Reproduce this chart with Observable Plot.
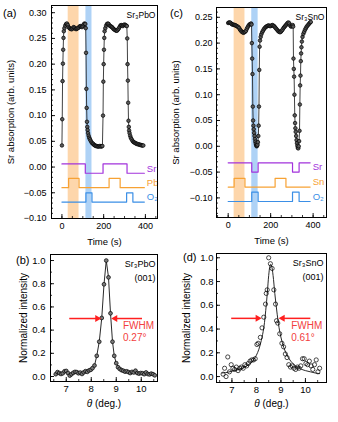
<!DOCTYPE html>
<html><head><meta charset="utf-8">
<script src="https://cdn.jsdelivr.net/npm/d3@7"></script>
<script src="https://cdn.jsdelivr.net/npm/@observablehq/plot@0.6"></script>
<style>
body{margin:0;background:#fff;}
#fig{position:relative;width:338px;height:422px;font-family:"Liberation Sans",Arial,sans-serif;background:#fff;}
.plet{position:absolute;font-size:11px;line-height:11px;color:#000;}
</style></head><body><div id="fig"></div>
<script>
// ---------- Panel (a): Sr3PbO Sr absorption vs time ----------
const timeA = [0,1.5,3,4.5,6,7.5,9,
 12,16,20,24,28,32,36,40,44,48,52,56,60,64,68,72,76,80,84,88,92,96,100,104,108,112,
 114,115.5,117,118.5,120,121.5,123,125,128,131,134,138,142,146,150,154,158,162,166,170,174,178,182,186,190,194,
 197,198.5,200,201.5,203,204.5,
 208,212,216,220,224,228,232,236,240,244,248,252,256,260,264,268,272,276,280,284,288,292,296,300,304,308,311,
 313,314.5,316,317.5,319,320.5,322,324,327,330,334,338,342,346,350,354,358,362,366,370,374,378,382,386,390];
const srA = [0.042,0.093,0.167,0.201,0.228,0.251,0.264,
 0.270,0.275,0.278,0.279,0.276,0.272,0.270,0.269,0.268,0.268,0.270,0.272,0.271,0.269,0.268,0.269,0.270,0.271,0.273,0.274,0.273,0.272,0.274,0.277,0.279,0.278,
 0.270,0.222,0.152,0.115,0.088,0.078,0.072,0.066,0.061,0.057,0.054,0.051,0.048,0.046,0.045,0.043,0.042,0.041,0.041,0.040,0.040,0.040,0.041,0.040,0.040,0.041,
 0.100,0.166,0.200,0.228,0.251,0.264,
 0.270,0.275,0.278,0.279,0.278,0.275,0.274,0.273,0.272,0.270,0.268,0.267,0.266,0.265,0.265,0.267,0.269,0.272,0.275,0.276,0.275,0.274,0.276,0.277,0.276,0.275,0.274,
 0.250,0.200,0.168,0.125,0.090,0.078,0.071,0.066,0.061,0.057,0.054,0.051,0.049,0.048,0.047,0.046,0.045,0.045,0.044,0.044,0.043,0.043,0.042,0.042,0.042];
const shutTimeSrA = [0,112,197,312,395];
const shutSrA = [0.006,-0.012,0.006,-0.012,-0.012];
const shutTimePbA = [0,32,82,226,279,395];
const shutPbA = [-0.040,-0.022,-0.040,-0.022,-0.040,-0.040];
const shutTimeO2A = [0,115,144,310,340,395];
const shutO2A = [-0.068,-0.050,-0.068,-0.050,-0.068,-0.068];
const bandsA = [{x1:30,x2:82,kind:"metal"},{x1:115,x2:144,kind:"oxygen"}];
const shutLabelsA = [{t:407,v:-0.003,s:"Sr",k:"Sr"},{t:407,v:-0.030,s:"Pb",k:"M"},{t:407,v:-0.058,s:"O₂",k:"O"}];

// ---------- Panel (c): Sr3SnO ----------
const timeC = [0,4,8,12,16,20,24,28,32,36,40,44,48,52,56,60,64,68,72,76,80,84,88,92,96,100,104,108,
 110,111.5,113,114.5,116,117.5,119,120.5,122,124,126,128,130,132,134,136,138,140,142,
 143.5,145,146.5,148,150,153,156,
 160,164,168,172,176,180,184,188,192,196,200,204,208,212,216,220,224,228,232,236,240,244,248,252,256,260,264,268,272,276,280,284,288,292,296,300,304,
 306,307.5,309,310.5,312,313.5,315,316.5,318,320,322,324,326,328,330,332,334,336,
 337.5,339,340.5,342,343.5,345,347,350,354,358,362,366,370,374,378,382,386,389];
const srC = [0.239,0.240,0.240,0.239,0.237,0.236,0.236,0.235,0.235,0.234,0.233,0.232,0.231,0.229,0.226,0.224,0.222,0.221,0.220,0.221,0.222,0.224,0.228,0.231,0.234,0.236,0.237,0.238,
 0.236,0.200,0.170,0.140,0.077,0.050,0.040,0.033,0.026,0.020,0.014,0.009,0.005,0.002,0.000,0.001,0.003,0.008,0.020,
 0.040,0.077,0.148,0.193,0.205,0.212,0.217,
 0.221,0.224,0.227,0.229,0.231,0.232,0.233,0.234,0.234,0.233,0.233,0.234,0.235,0.234,0.233,0.231,0.229,0.227,0.225,0.223,0.222,0.221,0.222,0.224,0.226,0.229,0.231,0.233,0.235,0.237,0.239,0.240,0.238,0.234,0.232,0.233,0.235,
 0.232,0.170,0.150,0.135,0.100,0.060,0.045,0.035,0.028,0.020,0.012,0.006,0.001,-0.003,-0.004,0.000,0.010,0.030,
 0.081,0.118,0.137,0.165,0.180,0.192,0.203,0.212,0.218,0.222,0.226,0.229,0.232,0.234,0.236,0.238,0.240,0.241];
const shutTimeSrC = [0,111,141,303,334,386];
const shutSrC = [-0.032,-0.050,-0.032,-0.050,-0.032,-0.032];
const shutTimeSnC = [0,28,79,221,272,386];
const shutSnC = [-0.079,-0.062,-0.079,-0.062,-0.079,-0.079];
const shutTimeO2C = [0,111,141,303,334,386];
const shutO2C = [-0.107,-0.089,-0.107,-0.089,-0.107,-0.107];
const bandsC = [{x1:28,x2:79,kind:"metal"},{x1:111,x2:141,kind:"oxygen"}];
const shutLabelsC = [{t:398,v:-0.041,s:"Sr",k:"Sr"},{t:398,v:-0.070,s:"Sn",k:"M"},{t:398,v:-0.099,s:"O₂",k:"O"}];

// ---------- Panel (b): Sr3PbO (001) rocking curve ----------
const thetaB = [6.58,6.65,6.72,6.79,6.86,6.93,7.00,7.07,7.14,7.21,7.28,7.35,7.42,7.49,7.56,7.63,7.70,7.77,7.84,7.91,7.98,8.05,8.13,
 8.22,8.32,8.42,8.51,8.60,8.69,8.77,8.85,8.92,9.00,9.07,9.14,9.21,9.28,9.35,9.42,9.49,9.56,9.63,9.70,9.77,9.84,9.91,9.98,10.05,10.12,10.19,10.26,10.33,10.40,10.47,10.54];
const intB = [0.020,0.038,0.030,0.022,0.028,0.045,0.048,0.030,0.008,0.020,0.032,0.040,0.038,0.028,0.034,0.022,0.036,0.046,0.040,0.052,0.058,0.072,0.095,
 0.178,0.300,0.505,0.795,1.000,0.855,0.545,0.300,0.178,0.115,0.080,0.065,0.055,0.050,0.042,0.045,0.038,0.030,0.040,0.035,0.050,0.030,0.025,0.030,0.028,0.020,0.035,0.022,0.018,0.025,0.020,0.010];
const arrowsB = [{x1:7.12,x2:8.24,y:0.50},{x1:10.03,x2:8.96,y:0.50}];
const fwhmB = [{x:9.27,y:0.44,s:"FWHM"},{x:9.27,y:0.333,s:"0.27°"}];

// ---------- Panel (d): Sr3SnO (001) rocking curve ----------
const thetaD = [6.64,6.70,6.76,6.83,6.90,6.97,7.04,7.11,7.18,7.25,7.32,7.39,7.46,7.53,7.60,7.67,7.74,7.81,7.88,7.95,8.02,8.07,8.16,8.23,8.30,8.37,8.40,8.44,
 8.50,8.57,8.64,8.71,8.78,8.82,8.87,8.95,9.04,9.11,9.18,9.25,9.32,9.39,9.46,9.53,9.60,9.67,9.74,9.81,9.88,9.95,10.02,10.09,10.16,10.23,10.30,10.37,10.44,10.51,10.58];
const intD = [0.02,0.07,0.00,0.165,0.04,0.10,0.07,0.06,0.08,0.05,0.07,0.08,0.07,0.10,0.09,0.11,0.13,0.14,0.14,0.15,0.27,0.28,0.33,0.41,0.50,0.61,0.70,0.73,
 1.00,0.95,0.91,0.73,0.61,0.47,0.45,0.36,0.28,0.25,0.19,0.16,0.10,0.08,0.09,0.07,0.06,0.08,0.07,0.09,0.15,0.15,0.11,0.10,0.13,0.09,0.06,0.10,0.14,0.04,0.07];
const fitThetaD = [6.60,6.80,7.00,7.20,7.40,7.60,7.80,7.90,8.00,8.10,8.20,8.30,8.40,8.45,8.50,8.55,8.58,8.62,8.68,8.75,8.85,8.95,9.05,9.20,9.40,9.60,9.80,10.00,10.20,10.40,10.58];
const fitD = [0.030,0.035,0.045,0.055,0.068,0.088,0.120,0.145,0.180,0.230,0.305,0.410,0.600,0.720,0.850,0.930,0.945,0.930,0.850,0.700,0.520,0.380,0.290,0.200,0.130,0.090,0.065,0.050,0.040,0.030,0.025];
const arrowsD = [{x1:6.97,x2:8.05,y:0.49},{x1:10.20,x2:9.07,y:0.49}];
const fwhmD = [{x:9.42,y:0.43,s:"FWHM"},{x:9.42,y:0.326,s:"0.61°"}];

// tick labels
const yTicksTop = [-0.10,-0.05,0.00,0.05,0.10,0.15,0.20,0.25,0.30];
const xTicksTime = [0,200,400];
const yTicksRock = [0,0.2,0.4,0.6,0.8,1.0];
const xTicksTheta = [7,8,9,10];

// ---------- styles ----------
const COL = {Sr:"#a233dc", M:"#f7a234", O:"#3b8fe6", metal:"#fdd6ab", oxygen:"#aed2f6", red:"#ff1f1f", redText:"#f24040"};
const FONT = "Liberation Sans, Arial, sans-serif";
const fig = document.getElementById("fig");
const zip = (xs, ys) => xs.map((x, i) => ({x, y: ys[i]}));

function place(el, left, top) {
  el.style.position = "absolute"; el.style.left = left + "px"; el.style.top = top + "px";
  fig.appendChild(el);
}
function inwardTicks(major, minor, axis, fw, fh) {
  if (axis === "y") return [
    Plot.tickY(minor, {y: d => d, insetRight: fw - 2, stroke: "black", strokeWidth: 0.8}),
    Plot.tickY(major, {y: d => d, insetRight: fw - 4, stroke: "black", strokeWidth: 0.9})
  ];
  return [
    Plot.tickX(minor, {x: d => d, insetTop: fh - 2, stroke: "black", strokeWidth: 0.8}),
    Plot.tickX(major, {x: d => d, insetTop: fh - 4, stroke: "black", strokeWidth: 0.9})
  ];
}

function timePanel(o) {
  const fw = o.width - o.mL - o.mR, fh = o.height - o.mT - o.mB;
  const data = zip(o.time, o.val);
  const marks = [];
  for (const b of o.bands) marks.push(Plot.rect([b], {x1: "x1", x2: "x2", y1: () => o.yDomain[0], y2: () => o.yDomain[1], fill: COL[b.kind]}));
  for (const s of o.shutters) marks.push(Plot.line(zip(s.t, s.v), {x: "x", y: "y", curve: "step-after", stroke: COL[s.k], strokeWidth: 1.2}));
  marks.push(Plot.text(o.shutLabels, {x: "t", y: "v", text: "s", fill: d => COL[d.k], textAnchor: "start", fontSize: 9.5, lineAnchor: "middle"}));
  marks.push(Plot.line(data, {x: "x", y: "y", stroke: "#111", strokeWidth: 0.8}));
  marks.push(Plot.dot(data, {x: "x", y: "y", r: 1.8, stroke: "#000", fill: "#5a5a5a", strokeWidth: 0.7}));
  marks.push(...inwardTicks(o.yTicks, d3.range(-0.14, 0.315, 0.01).map(v => +v.toFixed(2)).filter(v => v >= o.yDomain[0] && v <= o.yDomain[1]), "y", fw, fh));
  marks.push(...inwardTicks(o.xTicks, d3.range(-50, 461, 50).filter(v => v >= o.xDomain[0] && v <= o.xDomain[1]), "x", fw, fh));
  marks.push(Plot.axisY(o.yTicks, {tickSize: 0, tickPadding: o.yPad, tickFormat: d3.format(".2f"), label: null, fontSize: 9}));
  marks.push(Plot.axisX(o.xTicks, {tickSize: 0, tickPadding: 4, label: null, fontSize: 9}));
  marks.push(Plot.frame({stroke: "black", strokeWidth: 1}));
  marks.push(Plot.text([o.compound], {frameAnchor: "top-right", dx: -2, dy: 10, textAnchor: "end", lineAnchor: "middle", fontSize: 8.5}));
  marks.push(Plot.text(["Sr absorption (arb. units)"], {frameAnchor: "left", dx: o.yTitleDx, rotate: -90, textAnchor: "middle", lineAnchor: "middle", fontSize: 9.5}));
  marks.push(Plot.text(["Time (s)"], {frameAnchor: "bottom", dy: o.xTitleDy, textAnchor: "middle", lineAnchor: "middle", fontSize: 9.5}));
  return Plot.plot({
    width: o.width, height: o.height, marginLeft: o.mL, marginRight: o.mR, marginTop: o.mT, marginBottom: o.mB,
    style: {fontFamily: FONT, fontSize: "9px", color: "black", background: "transparent", overflow: "visible"},
    x: {domain: o.xDomain}, y: {domain: o.yDomain},
    marks
  });
}

function rockPanel(o) {
  const fw = o.width - o.mL - o.mR, fh = o.height - o.mT - o.mB;
  const data = zip(o.theta, o.val);
  const marks = [];
  if (o.fit) marks.push(Plot.line(zip(o.fit.x, o.fit.y), {x: "x", y: "y", curve: "catmull-rom", stroke: "#111", strokeWidth: 0.9}));
  else marks.push(Plot.line(data, {x: "x", y: "y", stroke: "#111", strokeWidth: 0.9}));
  marks.push(Plot.dot(data, {x: "x", y: "y", r: o.fit ? 2.1 : 1.9, stroke: "#000", fill: o.fit ? "none" : "#7a7a7a", strokeWidth: 0.7}));
  marks.push(Plot.link(o.arrows, {x1: "x1", x2: "x2", y1: "y", y2: "y", stroke: COL.red, strokeWidth: 1.5}));
  marks.push(Plot.dot(o.arrows, {x: "x2", y: "y", symbol: "triangle", r: 2.6, fill: COL.red, stroke: "none",
    rotate: d => d.x2 > d.x1 ? 90 : -90, dx: 0}));
  marks.push(Plot.text(o.fwhm, {x: "x", y: "y", text: "s", fill: COL.redText, textAnchor: "start", lineAnchor: "middle", fontSize: 10}));
  marks.push(...inwardTicks(yTicksRock, d3.range(0, 1.05, 0.1).map(v => +v.toFixed(1)), "y", fw, fh));
  marks.push(...inwardTicks(xTicksTheta, d3.range(6.5, 10.9, 0.5).filter(v => v <= o.xDomain[1]), "x", fw, fh));
  marks.push(Plot.axisY(yTicksRock, {tickSize: 0, tickPadding: o.yPad, tickFormat: d3.format(".1f"), label: null, fontSize: 9.5}));
  marks.push(Plot.axisX(xTicksTheta, {tickSize: 0, tickPadding: 4, label: null, fontSize: 9.5}));
  marks.push(Plot.frame({stroke: "black", strokeWidth: 1}));
  marks.push(Plot.text([o.compound], {frameAnchor: "top-right", dx: o.labDx, dy: o.labDy1, textAnchor: "end", lineAnchor: "middle", fontSize: 9}));
  marks.push(Plot.text(["(001)"], {frameAnchor: "top-right", dx: o.labDx, dy: o.labDy2, textAnchor: "end", lineAnchor: "middle", fontSize: 9}));
  marks.push(Plot.text(["Normalized intensity"], {frameAnchor: "left", dx: o.yTitleDx, rotate: -90, textAnchor: "middle", lineAnchor: "middle", fontSize: 10}));
  marks.push(Plot.text(["θ (deg.)"], {frameAnchor: "bottom", dy: o.xTitleDy, textAnchor: "middle", lineAnchor: "middle", fontSize: 10}));
  const svg = Plot.plot({
    width: o.width, height: o.height, marginLeft: o.mL, marginRight: o.mR, marginTop: o.mT, marginBottom: o.mB,
    style: {fontFamily: FONT, fontSize: "9.5px", color: "black", background: "transparent", overflow: "visible"},
    x: {domain: o.xDomain}, y: {domain: o.yDomain},
    marks
  });
  for (const t of svg.querySelectorAll("text")) {
    if (t.textContent === "θ (deg.)") {
      t.textContent = "";
      const a = document.createElementNS("http://www.w3.org/2000/svg", "tspan");
      a.setAttribute("font-style", "italic"); a.textContent = "θ";
      const b = document.createElementNS("http://www.w3.org/2000/svg", "tspan");
      b.textContent = " (deg.)";
      t.appendChild(a); t.appendChild(b);
    }
  }
  return svg;
}

place(timePanel({time: timeA, val: srA, width: 170, height: 250, mL: 51, mR: 13, mT: 5, mB: 32,
  xDomain: [-50, 458], yDomain: [-0.10, 0.314], yTicks: yTicksTop, xTicks: xTicksTime, yPad: 5,
  bands: bandsA, shutLabels: shutLabelsA, compound: "Sr₃PbO", yTitleDx: -41, xTitleDy: 23.5,
  shutters: [{t: shutTimeSrA, v: shutSrA, k: "Sr"}, {t: shutTimePbA, v: shutPbA, k: "M"}, {t: shutTimeO2A, v: shutO2A, k: "O"}]}), 0, 0);

place(timePanel({time: timeC, val: srC, width: 168, height: 250, mL: 46, mR: 12, mT: 7, mB: 33,
  xDomain: [-55, 463], yDomain: [-0.138, 0.269], yTicks: yTicksTop.filter(v => v <= 0.25), xTicks: xTicksTime, yPad: 4,
  bands: bandsC, shutLabels: shutLabelsC, compound: "Sr₃SnO", yTitleDx: -41, xTitleDy: 23,
  shutters: [{t: shutTimeSrC, v: shutSrC, k: "Sr"}, {t: shutTimeSnC, v: shutSnC, k: "M"}, {t: shutTimeO2C, v: shutO2C, k: "O"}]}), 170, 0);

place(rockPanel({theta: thetaB, val: intB, width: 170, height: 172, mL: 50, mR: 13, mT: 4, mB: 41,
  xDomain: [6.37, 10.65], yDomain: [-0.043, 1.052], yPad: 5, arrows: arrowsB, fwhm: fwhmB,
  compound: "Sr₃PbO", labDx: -2, labDy1: 9.5, labDy2: 24, yTitleDx: -27, xTitleDy: 22.3}), 0, 250);

place(rockPanel({theta: thetaD, val: intD, fit: {x: fitThetaD, y: fitD}, width: 168, height: 172, mL: 46, mR: 12, mT: 3, mB: 40,
  xDomain: [6.37, 10.86], yDomain: [-0.05, 1.036], yPad: 3, arrows: arrowsD, fwhm: fwhmD,
  compound: "Sr₃SnO", labDx: -3, labDy1: 9.7, labDy2: 23.7, yTitleDx: -29.3, xTitleDy: 21.3}), 170, 250);

for (const [s, l, t] of [["(a)", 3, 7.5], ["(c)", 170, 8], ["(b)", 16, 254.5], ["(d)", 183, 252]]) {
  const d = document.createElement("div"); d.className = "plet"; d.textContent = s;
  d.style.left = l + "px"; d.style.top = t + "px"; fig.appendChild(d);
}
</script></body></html>
